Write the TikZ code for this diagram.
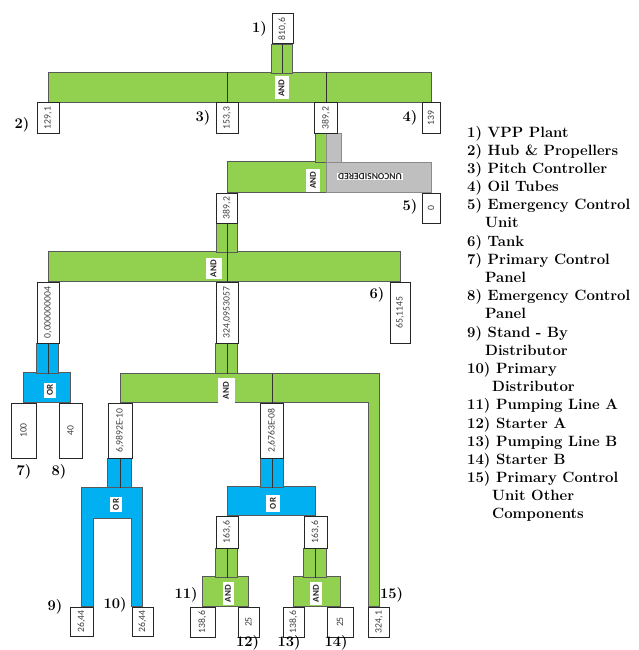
\documentclass[tikz,border=0pt]{standalone}
\usepackage{fontspec}
\newfontfamily\boxfnt{Carlito}
\usetikzlibrary{calc}
\pgfdeclarelayer{bg}
\pgfsetlayers{bg,main}
\definecolor{fgreen}{HTML}{92D050}
\definecolor{fblue}{HTML}{00B0F0}
\definecolor{fgray}{HTML}{BFBFBF}
\definecolor{edgec}{HTML}{595959}
\definecolor{numtxt}{HTML}{404040}
\tikzset{
 valbox/.style={draw=black!85, line width=1pt, fill=white, inner sep=0pt,
   font=\boxfnt\fontsize{9.7}{10}\selectfont, text=numtxt},
 gbar/.style={fill=fgreen, draw=edgec, line width=0.5pt},
 bbar/.style={fill=fblue, draw=edgec, line width=0.5pt},
 ybar/.style={fill=fgray, draw=edgec!70, line width=0.5pt},
 cline/.style={draw=black!80, line width=0.7pt},
 gate/.style={fill=white, inner sep=0.5pt, font=\boxfnt\bfseries\fontsize{9}{10}\selectfont, text=black!85},
 andgate/.style={gate, minimum width=14pt, minimum height=23pt},
 orgate/.style={gate, minimum width=12pt, minimum height=15pt},
 numlab/.style={font=\fontsize{14.7}{16}\selectfont\bfseries, inner sep=0pt},
 legtxt/.style={font=\fontsize{14.9}{16}\selectfont\bfseries, inner sep=0pt, anchor=base west},
}
\newcommand\vb[5]{\node[valbox, minimum width=#3, minimum height=#4] (#1) at #2 {\rotatebox{90}{#5}};}
\begin{document}
\begin{tikzpicture}[x=1pt,y=-1pt]
\useasboundingbox (0,0) rectangle (639,650);
% value boxes
\vb{b1}{(282.5,29)}{21}{30}{810,6}
\vb{b2}{(48,118)}{22}{30}{129,1}
\vb{b3}{(227,118)}{22}{30}{153,3}
\vb{b3b}{(326,118)}{23}{30}{389,2}
\vb{b4}{(431,118)}{18}{30}{139}
\vb{b6}{(227,208)}{21}{30}{389,2}
\vb{b5}{(431,208)}{18}{30}{0}
\vb{b7}{(48,312.5)}{22}{61}{0,000000004}
\vb{b8}{(227,312.5)}{22}{61}{324,0953057}
\vb{b9}{(400,312.5)}{20}{61}{65,1145}
\vb{b10}{(23.5,430.5)}{25}{55}{100}
\vb{b11}{(70.5,430.5)}{23}{55}{40}
\vb{b12}{(120,430.5)}{24}{55}{6,9892E-10}
\vb{b13}{(272,430.5)}{23}{55}{2,6763E-08}
\vb{b16}{(227,532)}{22}{32}{163,6}
\vb{b17}{(315.5,532)}{23}{32}{163,6}
\vb{b14}{(81.5,621.5)}{23}{29}{26,44}
\vb{b15}{(142.5,621.5)}{21}{29}{26,44}
\vb{b18}{(202.5,622)}{25}{30}{138,6}
\vb{b19}{(248.5,622)}{21}{30}{25}
\vb{b20}{(293.5,622)}{21}{30}{138,6}
\vb{b21}{(340,622)}{26}{30}{25}
\vb{b22}{(379,622)}{21}{30}{324,1}
% junction coordinates
\coordinate (j4) at ($(b8.south)+(0,30)$);
\coordinate (j5) at ($(b12.south)+(0,29)$);
\coordinate (j5i) at ($(b12.south)+(0,60)$);
\begin{pgfonlayer}{bg}
% level 1
\filldraw[gbar] ([yshift=30pt]b2.north) rectangle (b4.north);
\filldraw[gbar] (b1.south west) rectangle ++(21,29);
\draw[cline] (b1.south) -- ++(0,29);
\draw[cline] (b3.north) -- ++(0,-30);
\draw[cline] (b3b.north) -- ++(0,-30);
% level 2
\filldraw[gbar] ([yshift=31pt]b6.north) rectangle (b3b.south |- b6.north);
\filldraw[ybar] ($(b3b.south)+(0,29)$) rectangle (b5.north);
\filldraw[gbar] ([xshift=-11pt]b3b.south) rectangle ++(11,29);
\filldraw[ybar] (b3b.south) rectangle ++(15,29);
% level 3
\filldraw[gbar] ($(b7.north)+(0,-30)$) rectangle (b9.north);
\filldraw[gbar] (b6.south west) rectangle ++(21,29);
\draw[cline] (b6.south) -- (b8.north);
% OR 1
\filldraw[bbar] ($(b10.north)+(0,-30)$) rectangle (b11.north);
\filldraw[bbar] (b7.south west) rectangle ++(22,30);
\draw[cline] (b7.south) -- ++(0,30);
% AND 4
\filldraw[gbar] (b12.north) -- (b12.north |- j4) -- (b22.north |- j4) -- (b22.north)
  -- (b22.north west) -- (b22.north west |- b12.north) -- cycle;
\filldraw[gbar] (b8.south west) rectangle ++(22,30);
\draw[cline] (b8.south) -- (j4);
\draw[cline] (b13.north) -- (b13.north |- j4);
% OR 2
\filldraw[bbar] (b14.north) -- (b14.north |- j5) -- (b15.north |- j5) -- (b15.north)
  -- (b15.north west) -- (b15.north west |- j5i) -- (b14.north east |- j5i) -- (b14.north east) -- cycle;
\filldraw[bbar] (b12.south west) rectangle ++(24,29);
\draw[cline] (b12.south) -- ++(0,29);
% OR 3
\filldraw[bbar] ($(b16.north)+(0,-29)$) rectangle (b17.north);
\filldraw[bbar] (b13.south west) rectangle ++(23,29);
\draw[cline] (b13.south) -- ++(0,29);
% AND 5, 6
\filldraw[gbar] ($(b18.north)+(0,-30)$) rectangle (b19.north);
\filldraw[gbar] ($(b20.north)+(0,-30)$) rectangle (b21.north);
\filldraw[gbar] (b16.south west) rectangle ++(22,29);
\filldraw[gbar] (b17.south west) rectangle ++(23,29);
\draw[cline] (b16.south) -- ++(0,29);
\draw[cline] (b17.south) -- ++(0,29);
\end{pgfonlayer}
% gate labels
\node[andgate] (g1) at (281.5,88) {\rotatebox{90}{AND}};
\node[andgate] (g2) at (313,180) {\rotatebox{90}{AND}};
\node[gate, rotate=180, inner sep=0.8pt, font=\boxfnt\bfseries\fontsize{9.5}{10}\selectfont] (unc) at (370,176.5) {UNCONSIDERED};
\node[andgate, minimum width=16pt, minimum height=21pt] (g3) at (213.5,268.5) {\rotatebox{90}{AND}};
\node[orgate] (g4) at (50,390) {\rotatebox{90}{OR}};
\node[andgate, minimum width=17pt, minimum height=25pt] (g5) at (226,390.5) {\rotatebox{90}{AND}};
\node[orgate] (g6) at (116,504.5) {\rotatebox{90}{OR}};
\node[orgate, minimum width=14pt, minimum height=17pt] (g7) at (273,503.5) {\rotatebox{90}{OR}};
\node[andgate, minimum width=11pt] (g8) at (228,593.5) {\rotatebox{90}{AND}};
\node[andgate, minimum width=12pt] (g9) at (316,593.5) {\rotatebox{90}{AND}};
% item numbers
\foreach \px/\py/\t [count=\i] in {259.5/29/1), 22/125/2), 203/118/3), 410/118/4), 410/207/5),
  377/295/6), 24/472/7), 59/472/8), 55/607/9), 115/605/10), 186/595/11),
  247.5/643/12), 289/643/13), 336/643/14), 391.5/595/15)}
  \node[numlab] (n\i) at (\px,\py) {\t};
% legend
\foreach \xx/\t [count=\i from 0] in {467/{1) VPP Plant}, 467/{2) Hub \& Propellers},
  467/{3) Pitch Controller}, 467/{4) Oil Tubes}, 467/{5) Emergency Control}, 485/{Unit},
  467/{6) Tank}, 467/{7) Primary Control}, 485/{Panel}, 467/{8) Emergency Control},
  485/{Panel}, 467/{9) Stand - By}, 485/{Distributor}, 467/{10) Primary},
  492/{Distributor}, 467/{11) Pumping Line A}, 467/{12) Starter A},
  467/{13) Pumping Line B}, 467/{14) Starter B}, 467/{15) Primary Control},
  492/{Unit Other}, 492/{Components}}
  \node[legtxt] (lg\i) at (\xx,{137+18.19*\i}) {\t};
\end{tikzpicture}
\end{document}
